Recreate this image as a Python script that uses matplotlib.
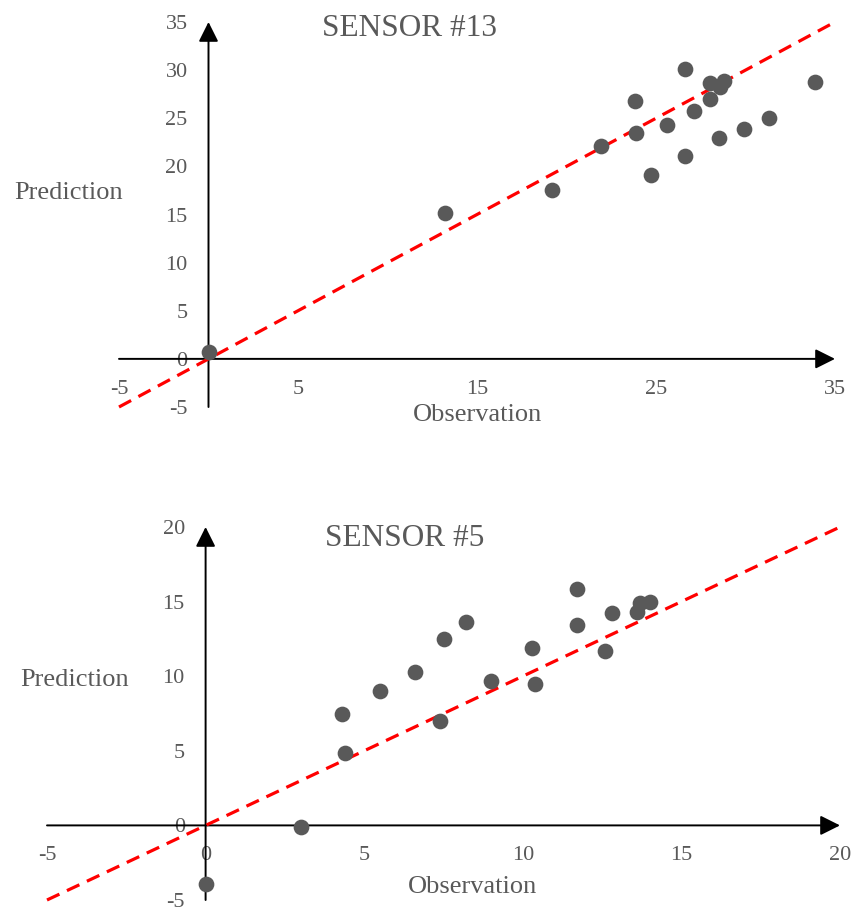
import matplotlib.pyplot as plt

# SENSOR #13 (observation, prediction)
obs_13 = [0.0, 13.2, 19.2, 21.9, 23.8, 23.9, 24.7, 25.6, 26.6, 26.6, 27.1,
          28.0, 28.0, 28.6, 28.8, 28.5, 29.9, 31.3, 33.9]
pred_13 = [0.7, 15.2, 17.5, 22.1, 26.8, 23.5, 19.1, 24.3, 30.1, 21.1, 25.8,
           28.7, 27.0, 28.2, 28.9, 23.0, 23.9, 25.0, 28.8]

# SENSOR #5 (observation, prediction)
obs_5 = [0.0, 3.0, 4.4, 4.3, 5.5, 6.6, 7.4, 7.5, 8.2, 9.0, 10.3, 10.4,
         11.7, 11.7, 12.6, 12.8, 13.6, 13.7, 14.0]
pred_5 = [-3.9, -0.1, 4.85, 7.5, 9.0, 10.3, 7.0, 12.5, 13.6, 9.7, 11.9, 9.5,
          15.85, 13.4, 11.7, 14.25, 14.3, 14.9, 14.95]

# axis ranges and tick labels
xlim_13, ylim_13 = [-5, 35], [-5, 35]
xticks_13 = [-5, 5, 15, 25, 35]
yticks_13 = [-5, 0, 5, 10, 15, 20, 25, 30, 35]
xlim_5, ylim_5 = [-5, 20], [-5, 20]
xticks_5 = [-5, 0, 5, 10, 15, 20]
yticks_5 = [-5, 0, 5, 10, 15, 20]

W, H = 852, 908
GRAY = '#595959'
plt.rcParams['font.family'] = ['Liberation Serif', 'DejaVu Serif']

fig = plt.figure(figsize=(W / 100, H / 100), dpi=100)


def px_axes(x0, y0, x1, y1):
    # axes box given in pixel coords (top-left origin)
    return fig.add_axes([x0 / W, 1 - y1 / H, (x1 - x0) / W, (y1 - y0) / H])


def panel(ax, obs, pred, xlim, ylim, xticks, yticks):
    ax.set_xlim(xlim)
    ax.set_ylim(ylim)
    for s in ax.spines.values():
        s.set_visible(False)
    ax.patch.set_alpha(0)
    ax.set_xticks(xticks)
    ax.set_yticks(yticks)
    ax.set_xticklabels([str(t) for t in xticks])
    ax.set_yticklabels([str(t) for t in yticks])
    # put tick labels next to the zero lines
    ax.spines['left'].set_position(('data', 0))
    ax.spines['bottom'].set_position(('data', 0))
    ax.tick_params(axis='x', length=0, pad=15, labelsize=16, labelcolor=GRAY)
    ax.tick_params(axis='y', length=0, pad=15, labelsize=16, labelcolor=GRAY)
    # axis lines with arrow heads
    arrow = dict(arrowstyle='-|>', mutation_scale=30, lw=1.4, color='black',
                 shrinkA=0, shrinkB=0)
    ax.annotate('', xy=(xlim[1], 0), xytext=(xlim[0], 0), arrowprops=arrow,
                annotation_clip=False)
    ax.annotate('', xy=(0, ylim[1]), xytext=(0, ylim[0]), arrowprops=arrow,
                annotation_clip=False)
    # identity line
    ax.plot(xlim, ylim, color='#FF0000', lw=2.3, ls=(0, (4.3, 2.6)), zorder=3,
            clip_on=False)
    ax.scatter(obs, pred, s=128, color=GRAY, zorder=4, clip_on=False,
               linewidths=0)


ax1 = px_axes(119, 22, 835, 407)
panel(ax1, obs_13, pred_13, xlim_13, ylim_13, xticks_13, yticks_13)
ax2 = px_axes(47, 527, 840, 900)
panel(ax2, obs_5, pred_5, xlim_5, ylim_5, xticks_5, yticks_5)


def ftext(x, y, s, size):
    fig.text(x / W, 1 - y / H, s, ha='center', va='center', fontsize=size,
             color=GRAY)


ftext(409, 29, 'SENSOR #13', 22.5)
ftext(69, 193, 'Prediction', 19)
ftext(477, 415, 'Observation', 19)
ftext(405, 539, 'SENSOR #5', 22.5)
ftext(75, 680, 'Prediction', 19)
ftext(473, 887, 'Observation', 19)

fig.savefig('out.png', dpi=100)
